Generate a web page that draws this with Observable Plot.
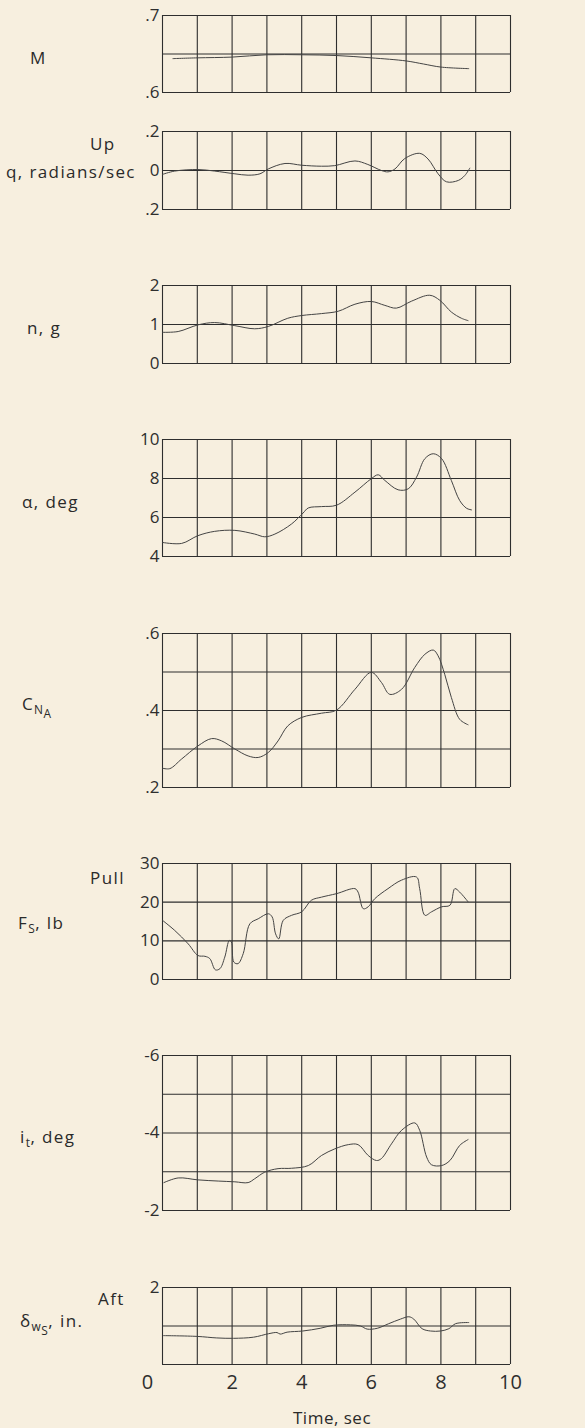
<!DOCTYPE html>
<html>
<head>
<meta charset="utf-8">
<script src="https://cdn.jsdelivr.net/npm/d3@7"></script>
<script src="https://cdn.jsdelivr.net/npm/@observablehq/plot@0.6"></script>
<style>
  html, body { margin: 0; padding: 0; background: #f7efdf; }
  #wrap { position: relative; width: 585px; height: 1428px; background: #f7efdf; overflow: hidden;
          font-family: "Open Sans", sans-serif; color: #2a2a2a; }
  .lbl { position: absolute; font-size: 17px; white-space: nowrap; transform: translateY(-50%); letter-spacing: 1.4px; }
  .plot { position: absolute; left: 0; }
  sub { font-size: 70%; vertical-align: -0.35em; line-height: 0; letter-spacing: 0.5px; }
  sub sub { font-size: 100%; vertical-align: -0.35em; }
</style>
</head>
<body>
<div id="wrap"></div>
<script>
// ---- Data (time in seconds) ----
const timeTicks = [0, 2, 4, 6, 8, 10];
const timeTickLabels = ["0", "2", "4", "6", "8", "10"];
const timeGrid = [0, 1, 2, 3, 4, 5, 6, 7, 8, 9, 10];

// Mach number
const tM = [0.3, 1, 2, 3, 4, 5, 6, 7, 7.5, 8, 8.8];
const vM = [0.644, 0.645, 0.646, 0.649, 0.649, 0.648, 0.645, 0.641, 0.637, 0.633, 0.631];
const ticksM = [0.6, 0.65, 0.7];
const labelsM = [".6", "", ".7"];

// Pitching velocity q, radians/sec
const tQ = [0, 0.35, 1.02, 1.5, 2.08, 2.46, 2.8, 3.04, 3.52, 4.0, 4.57, 4.95, 5.53, 5.9, 6.29, 6.48, 6.68, 6.96, 7.39, 7.63, 7.92, 8.16, 8.5, 8.69, 8.83];
const vQ = [-0.02, -0.003, 0.005, -0.003, -0.017, -0.024, -0.017, 0.008, 0.036, 0.027, 0.022, 0.025, 0.049, 0.031, 0, -0.007, 0.008, 0.061, 0.088, 0.059, -0.017, -0.058, -0.051, -0.025, 0.012];
const ticksQ = [-0.2, 0, 0.2];
const labelsQ = [".2", "0", ".2"];

// Normal acceleration n, g
const tN = [0, 0.45, 1.02, 1.5, 2.08, 2.65, 3.04, 3.6, 4.0, 4.57, 5.05, 5.53, 6.0, 6.39, 6.72, 7.16, 7.68, 7.97, 8.3, 8.59, 8.78];
const vN = [0.8, 0.82, 0.99, 1.05, 0.97, 0.89, 0.95, 1.16, 1.23, 1.28, 1.34, 1.52, 1.59, 1.49, 1.42, 1.6, 1.75, 1.62, 1.32, 1.16, 1.1];
const ticksN = [0, 1, 2];
const labelsN = ["0", "1", "2"];

// Angle of attack, deg
const tA = [0, 0.55, 1.02, 1.5, 2.08, 2.65, 2.94, 3.23, 3.71, 4.04, 4.19, 4.57, 5.0, 5.53, 6.0, 6.2, 6.39, 6.77, 7.06, 7.3, 7.54, 7.78, 8.02, 8.3, 8.54, 8.74, 8.88];
const vA = [4.72, 4.67, 5.07, 5.29, 5.34, 5.15, 5.01, 5.15, 5.67, 6.23, 6.49, 6.56, 6.63, 7.3, 7.99, 8.19, 7.9, 7.42, 7.47, 8.07, 9.02, 9.27, 9.02, 7.9, 6.87, 6.47, 6.39];
const ticksA = [4, 6, 8, 10];
const labelsA = ["4", "6", "8", "10"];

// Normal-force coefficient C_NA
const tC = [0, 0.21, 0.55, 1.02, 1.41, 1.7, 2.08, 2.46, 2.75, 3.04, 3.32, 3.6, 4.0, 4.57, 5.0, 5.53, 6.0, 6.29, 6.53, 6.87, 7.25, 7.54, 7.78, 7.92, 8.11, 8.3, 8.54, 8.78];
const vC = [0.25, 0.249, 0.274, 0.308, 0.327, 0.321, 0.3, 0.282, 0.278, 0.291, 0.321, 0.36, 0.382, 0.393, 0.401, 0.455, 0.499, 0.473, 0.442, 0.455, 0.512, 0.546, 0.557, 0.542, 0.494, 0.434, 0.377, 0.363];
const ticksC = [0.2, 0.3, 0.4, 0.5, 0.6];
const labelsC = [".2", "", ".4", "", ".6"];

// Stick force Fs, lb
const tF = [0, 0.35, 0.74, 1.02, 1.22, 1.36, 1.52, 1.65, 1.79, 1.92, 1.98, 2.05, 2.17, 2.32, 2.51, 2.75, 3.04, 3.15, 3.25, 3.34, 3.47, 3.71, 4.0, 4.28, 4.57, 5.0, 5.53, 5.62, 5.77, 5.91, 6.1, 6.48, 6.87, 7.3, 7.39, 7.54, 7.73, 8.02, 8.26, 8.4, 8.54, 8.78];
const vF = [15.3, 12.7, 9.2, 6.2, 6.0, 5.4, 2.5, 2.8, 5.8, 10.1, 9.7, 4.5, 4.1, 6.7, 14.4, 15.7, 17.0, 16.2, 11.8, 10.5, 15.3, 16.6, 17.5, 20.5, 21.3, 22.2, 23.5, 22.6, 18.3, 18.8, 20.9, 23.5, 25.7, 26.5, 23.5, 16.6, 17.5, 18.8, 19.2, 23.5, 22.6, 20.1];
const ticksF = [0, 10, 20, 30];
const labelsF = ["0", "10", "20", "30"];

// Stabilizer incidence it, deg
const tI = [0.04, 0.45, 1.02, 1.6, 2.08, 2.46, 2.65, 2.94, 3.32, 3.71, 4.19, 4.57, 4.95, 5.34, 5.62, 5.91, 6.15, 6.29, 6.58, 6.87, 7.25, 7.39, 7.59, 7.73, 8.02, 8.26, 8.54, 8.78];
const vI = [-2.72, -2.84, -2.79, -2.76, -2.74, -2.72, -2.82, -2.99, -3.08, -3.09, -3.16, -3.42, -3.59, -3.7, -3.7, -3.42, -3.29, -3.34, -3.72, -4.07, -4.26, -4.07, -3.38, -3.18, -3.16, -3.29, -3.68, -3.83];
const ticksI = [-6, -5, -4, -3, -2];
const labelsI = ["-6", "", "-4", "", "-2"];

// Wheel (stick) position, in.
const tD = [0.03, 0.99, 1.56, 2.04, 2.62, 3.05, 3.29, 3.38, 3.58, 4.03, 4.53, 4.92, 5.4, 5.69, 5.88, 6.17, 6.5, 6.84, 7.08, 7.22, 7.46, 7.7, 7.99, 8.23, 8.42, 8.8];
const vD = [0.75, 0.73, 0.69, 0.68, 0.71, 0.8, 0.83, 0.79, 0.84, 0.87, 0.94, 1.02, 1.03, 1.0, 0.92, 0.94, 1.06, 1.18, 1.24, 1.18, 0.93, 0.87, 0.87, 0.93, 1.06, 1.09];
const ticksD = [0, 1, 2];
const labelsD = ["", "", "2"];

// ---- Rendering ----
const wrap = document.getElementById("wrap");
const INK = "#2e2e2e";
const FONT = "'Open Sans', sans-serif";

function fmt(ticks, labels) {
  return d => {
    const i = ticks.findIndex(t => Math.abs(t - d) < 1e-9);
    return i >= 0 ? labels[i] : "";
  };
}

function panel(t, v, domain, ticks, labels, top, h, last) {
  const mt = 10, mb = last ? 64 : 10;
  const data = t.map((d, i) => ({t: d, v: v[i]}));
  const marks = [
    Plot.ruleX(timeGrid, {stroke: INK, strokeWidth: 1.1}),
    Plot.ruleY(ticks, {stroke: INK, strokeWidth: 1.1}),
    Plot.line(data, {x: "t", y: "v", curve: "catmull-rom", stroke: "#444", strokeWidth: 1}),
    Plot.axisY({ticks, tickFormat: fmt(ticks, labels), tickSize: 0, tickPadding: 3, fontSize: 17, label: null})
  ];
  if (last) {
    marks.push(Plot.axisX({ticks: [0], tickFormat: fmt(timeTicks, timeTickLabels), tickSize: 0, tickPadding: 10, dx: -15, fontSize: 20, label: null}));
    marks.push(Plot.axisX({ticks: timeTicks.slice(1), tickFormat: fmt(timeTicks, timeTickLabels), tickSize: 0, tickPadding: 10, fontSize: 20, label: null}));
  }
  const chart = Plot.plot({
    width: 585, height: h + mt + mb,
    marginLeft: 162, marginRight: 75, marginTop: mt, marginBottom: mb,
    x: {domain: [0, 10], axis: last ? undefined : null},
    y: {domain},
    style: {background: "transparent", fontFamily: FONT, color: INK, overflow: "visible"},
    marks
  });
  chart.classList.add("plot");
  chart.style.top = (top - mt) + "px";
  wrap.appendChild(chart);
}

panel(tM, vM, [0.6, 0.7], ticksM, labelsM, 15, 77, false);
panel(tQ, vQ, [-0.2, 0.2], ticksQ, labelsQ, 131, 78, false);
panel(tN, vN, [0, 2], ticksN, labelsN, 285, 78, false);
panel(tA, vA, [4, 10], ticksA, labelsA, 439, 117, false);
panel(tC, vC, [0.2, 0.6], ticksC, labelsC, 633, 154, false);
panel(tF, vF, [0, 30], ticksF, labelsF, 863, 116, false);
panel(tI, vI, [-2, -6], ticksI, labelsI, 1055, 155, false);
panel(tD, vD, [0, 2], ticksD, labelsD, 1287, 77, true);

// Side labels
const sideLabels = [
  {html: "M", x: 30, y: 57},
  {html: "Up", x: 90, y: 143},
  {html: "q, radians/sec", x: 6, y: 171},
  {html: "n, g", x: 27, y: 327},
  {html: "α, deg", x: 22, y: 501},
  {html: "C<sub>N<sub>A</sub></sub>", x: 22, y: 703},
  {html: "Pull", x: 90, y: 877},
  {html: "F<sub>S</sub>, lb", x: 18, y: 922},
  {html: "i<sub>t</sub>, deg", x: 20, y: 1136},
  {html: "δ<sub>w<sub>S</sub></sub>, in.", x: 20, y: 1320},
  {html: "Aft", x: 98, y: 1298},
  {html: "Time, sec", x: 293, y: 1417}
];
for (const l of sideLabels) {
  const el = document.createElement("div");
  el.className = "lbl";
  el.innerHTML = l.html;
  el.style.left = l.x + "px";
  el.style.top = l.y + "px";
  if (l.html === "Time, sec") el.style.letterSpacing = "0.5px";
  wrap.appendChild(el);
}
</script>
</body>
</html>
